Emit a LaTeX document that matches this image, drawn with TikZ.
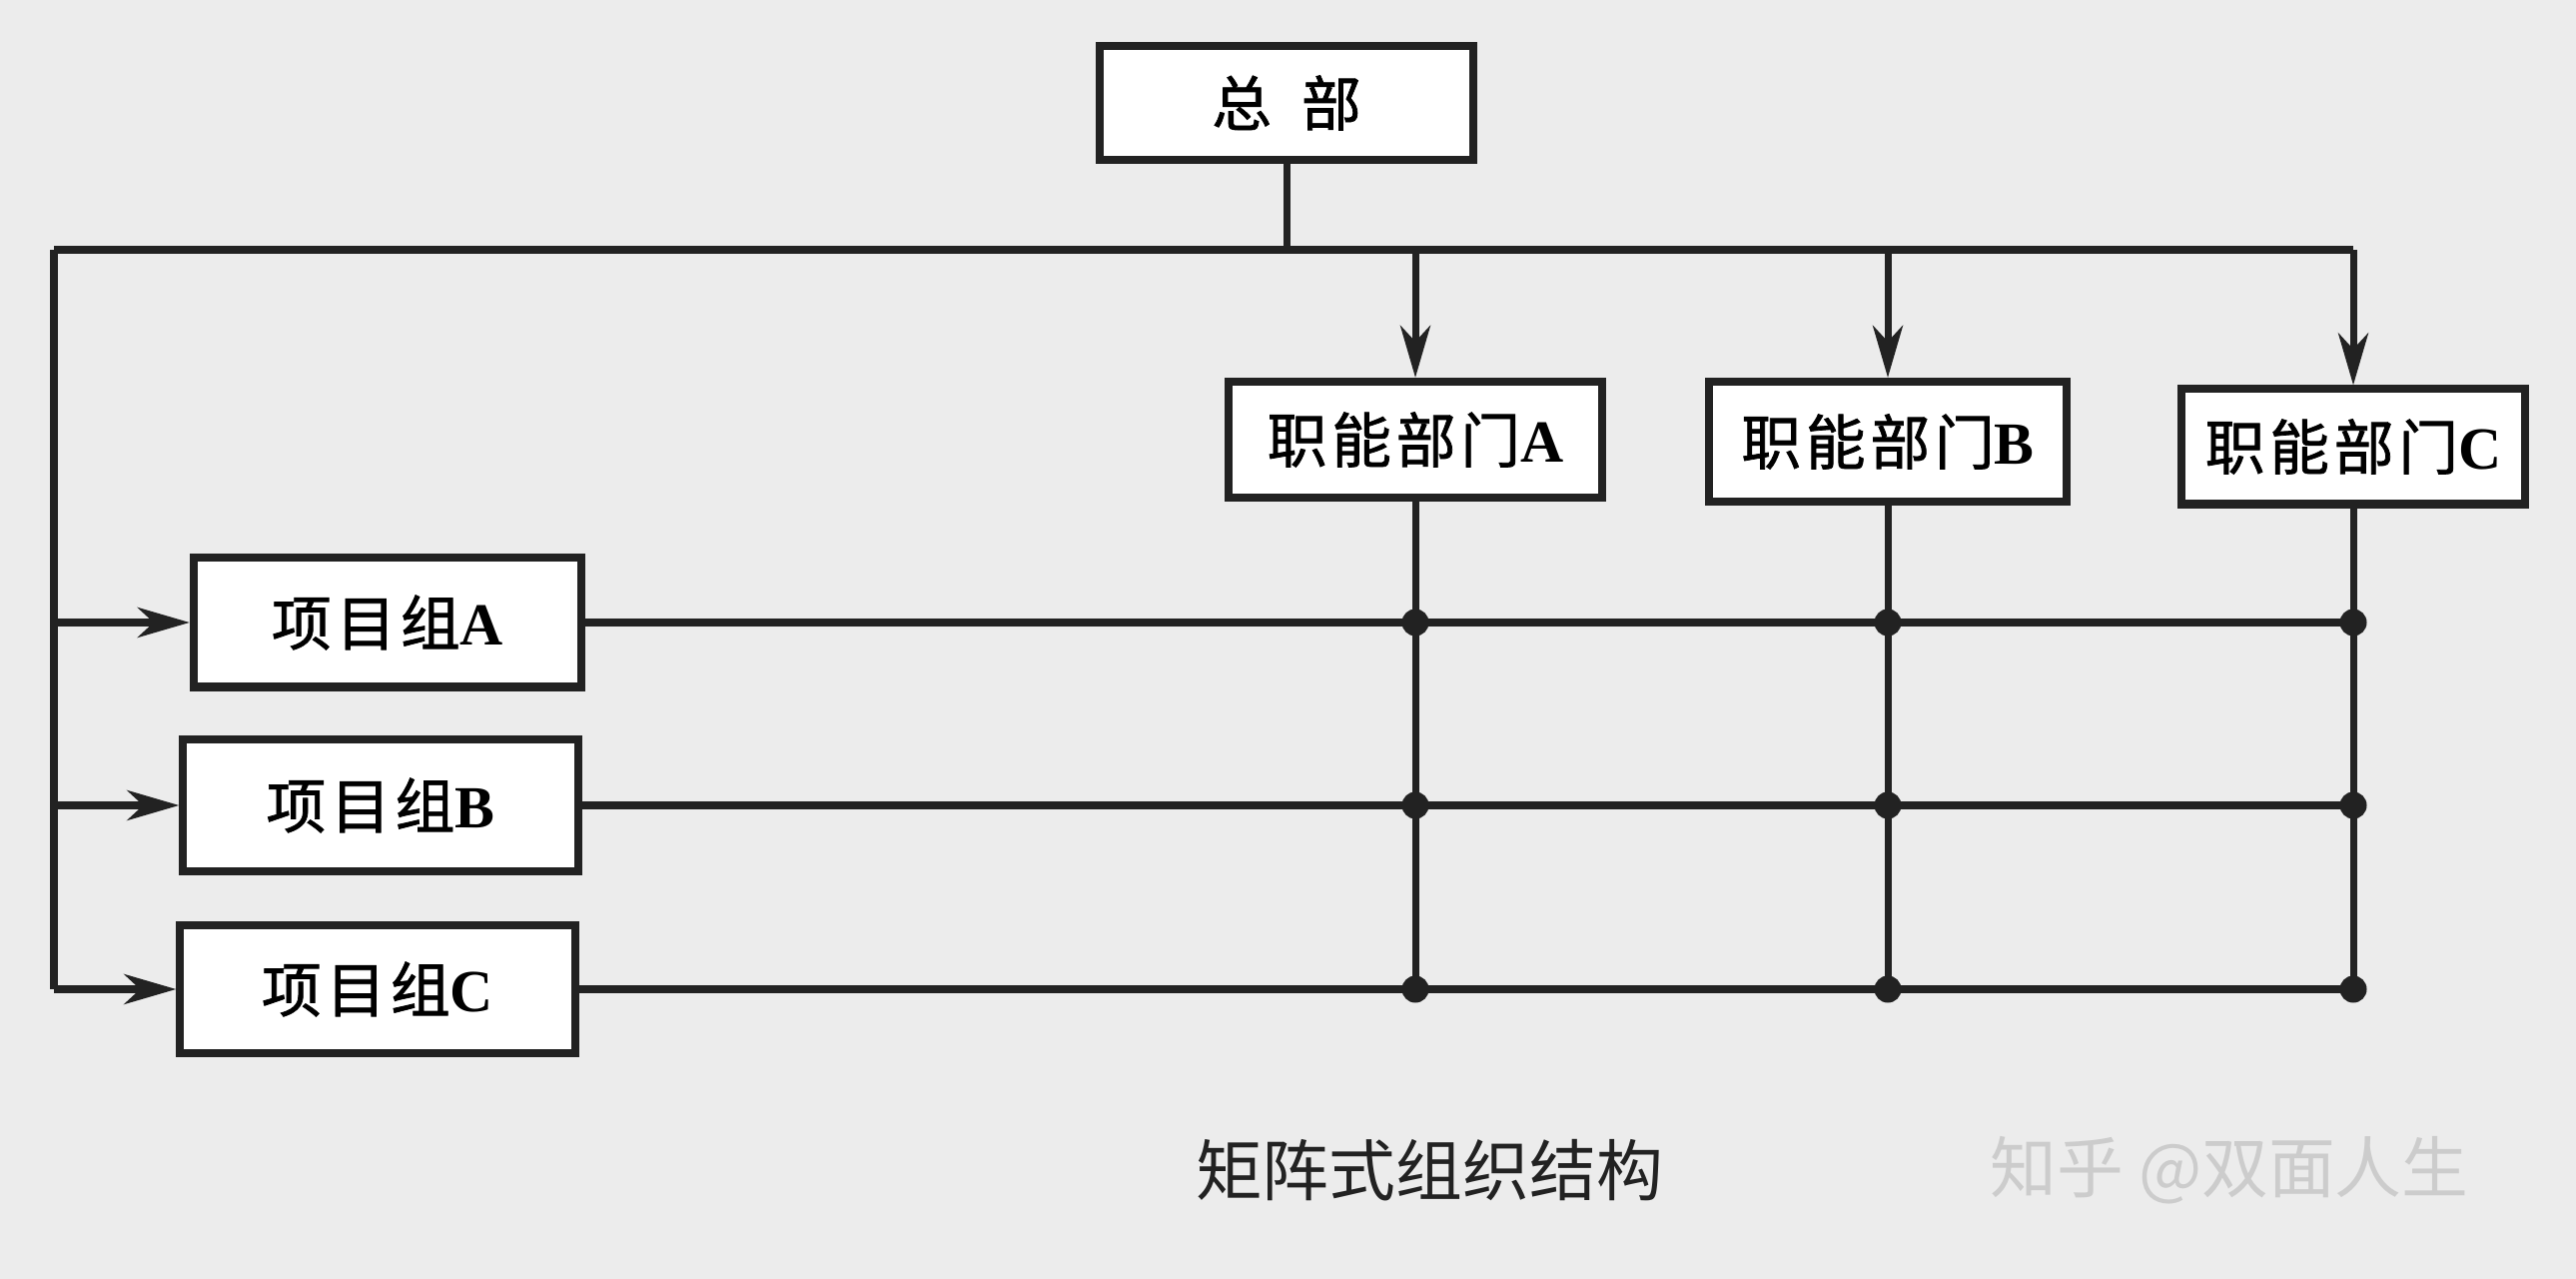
\documentclass[tikz,border=0pt]{standalone}
\usepackage{fontspec}
\setmainfont{Liberation Serif}
\newfontfamily\cjk{Noto Sans CJK SC}
\newfontfamily\cjkb{Noto Sans CJK SC}[FakeBold=1.2,LetterSpace=8]
\usetikzlibrary{arrows.meta}
\definecolor{ink}{HTML}{222222}
\definecolor{paper}{HTML}{ECECEC}
\tikzset{
  px/.style={x=0.01cm,y=-0.01cm},
  orgbox/.style={draw=ink, line width=2.3pt, fill=white, rectangle, inner sep=0pt, font=\fontsize{17}{20}\selectfont},
  link/.style={draw=ink, line width=2pt},
  harrow/.style={link, -{Stealth[length=0.52cm,width=0.30cm,inset=0.16cm]}},
  jdot/.style={circle, fill=ink, inner sep=0pt, minimum size=0.27cm}
}
\newcommand{\lbl}[2]{{\cjkb #1}{\bfseries #2}}
\begin{document}
\begin{tikzpicture}[px]
\fill[paper] (0,0) rectangle (2579,1280);
\useasboundingbox (0,0) rectangle (2579,1280);
% boxes
\node[orgbox, minimum width=3.73cm, minimum height=1.14cm] (hq) at (1288,103) {\cjkb 总\hspace{0.5em}部};
\node[orgbox, minimum width=3.74cm, minimum height=1.16cm] (da) at (1417,440) {\lbl{职能部门}{A}};
\node[orgbox, minimum width=3.58cm, minimum height=1.20cm] (db) at (1890,442) {\lbl{职能部门}{B}};
\node[orgbox, minimum width=3.44cm, minimum height=1.15cm] (dc) at (2356,447) {\lbl{职能部门}{C}};
\node[orgbox, minimum width=3.88cm, minimum height=1.29cm] (pa) at (388,623) {\lbl{项目组}{A}};
\node[orgbox, minimum width=3.95cm, minimum height=1.32cm] (pb) at (381,806) {\lbl{项目组}{B}};
\node[orgbox, minimum width=3.95cm, minimum height=1.28cm] (pc) at (378,990) {\lbl{项目组}{C}};
% trunk coordinates
\coordinate (t0) at (1288,250);
\coordinate (tl) at (54,250);
\coordinate (tr) at (2356,250);
\coordinate (ta) at (1417,250);
\coordinate (tb) at (1890,250);
\coordinate (la) at (54,623);
\coordinate (lb) at (54,806);
\coordinate (lc) at (54,990);
% top distribution
\draw[link] (hq.south) -- (t0);
\draw[link] (tl) -- (tr);
\draw[harrow] (ta) -- (da.north);
\draw[harrow] (tb) -- (db.north);
\draw[harrow] (tr) -- (dc.north);
% left distribution
\draw[link] (tl) -- (lc);
\draw[harrow] (la) -- (pa.west);
\draw[harrow] (lb) -- (pb.west);
\draw[harrow] (lc) -- (pc.west);
% grid junctions
\foreach \d/\x in {a/1417,b/1890,c/2356}{
  \foreach \p/\y in {a/623,b/806,c/990}{
    \node[jdot] (j\d\p) at (\x,\y) {};
  }
}
% rows
\draw[link] (pa.east) -- (jaa.center) -- (jba.center) -- (jca.center);
\draw[link] (pb.east) -- (jab.center) -- (jbb.center) -- (jcb.center);
\draw[link] (pc.east) -- (jac.center) -- (jbc.center) -- (jcc.center);
% columns
\draw[link] (da.south) -- (jaa.center) -- (jab.center) -- (jac.center);
\draw[link] (db.south) -- (jba.center) -- (jbb.center) -- (jbc.center);
\draw[link] (dc.south) -- (jca.center) -- (jcb.center) -- (jcc.center);
% captions
\node[text=ink, font=\cjk\fontsize{19}{22}\selectfont] (cap) at (1431,1171) {矩阵式组织结构};
\node[text=white!60!gray, font=\cjk\fontsize{19}{22}\selectfont] (wm) at (2232,1171) {知乎 @双面人生};
\end{tikzpicture}
\end{document}
